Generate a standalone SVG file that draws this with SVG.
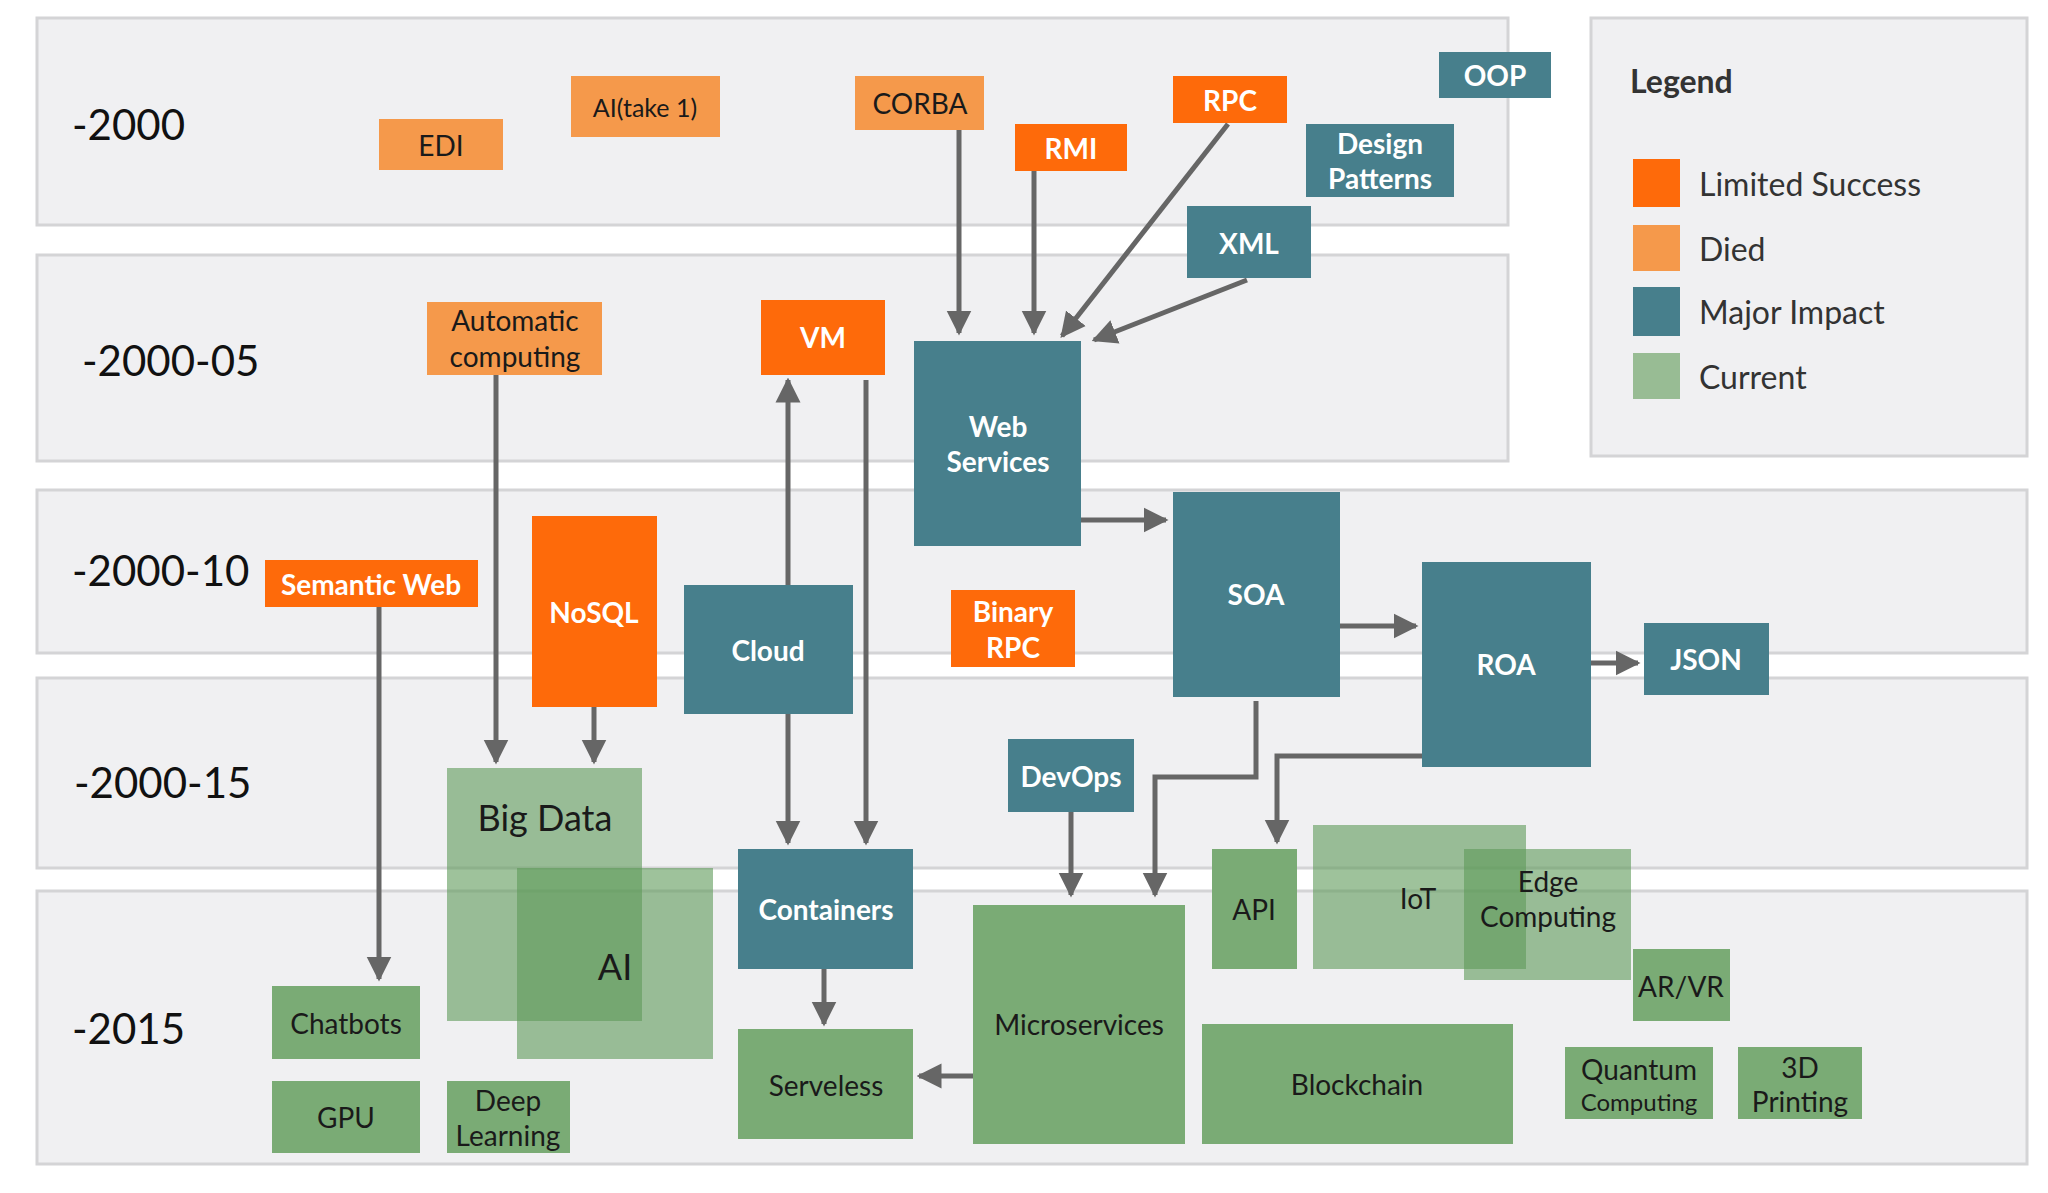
<svg xmlns="http://www.w3.org/2000/svg" width="2048" height="1193" viewBox="0 0 2048 1193">
<defs>
<style>
.band{fill:#f0f0f2;stroke:#d4d4d6;stroke-width:3}
.died{fill:#f5994b}
.lim{fill:#fe6a0a}
.maj{fill:#477f8c}
.cur{fill:#7aab75}
.semi{fill:#5e9a58;fill-opacity:0.6}
text{font-family:Lato,"Noto Sans","Liberation Sans",sans-serif;text-anchor:middle;dominant-baseline:central}
.dk{fill:#1a1a1a;font-size:28px}
.wt{fill:#ffffff;font-size:28px;font-weight:bold}
.yr{fill:#111;font-size:42px;text-anchor:start}
.lg{fill:#333;font-size:32px;text-anchor:start}
.con{fill:none;stroke:#666;stroke-width:5;marker-end:url(#ah)}
</style>
<marker id="ah" viewBox="0 0 10 10" refX="9" refY="5" markerWidth="5" markerHeight="6" orient="auto" markerUnits="strokeWidth"><path d="M0,0 L10,5 L0,10 z" fill="#666"/></marker>
</defs>
<rect width="2048" height="1193" fill="#ffffff"/>
<g id="bands">
<rect class="band" x="37" y="18" width="1471" height="207"/>
<rect class="band" x="37" y="255" width="1471" height="206"/>
<rect class="band" x="37" y="490" width="1990" height="163"/>
<rect class="band" x="37" y="678" width="1990" height="190"/>
<rect class="band" x="37" y="891" width="1990" height="273"/>
<text class="yr" x="72" y="124">-2000</text>
<text class="yr" x="82" y="360">-2000-05</text>
<text class="yr" x="72" y="570">-2000-10</text>
<text class="yr" x="74" y="782">-2000-15</text>
<text class="yr" x="72" y="1028">-2015</text>
</g>
<g id="legend">
<rect class="band" x="1591" y="18" width="436" height="438"/>
<text class="lg" x="1630" y="80" style="font-weight:bold;fill:#333">Legend</text>
<rect class="lim" x="1633" y="159" width="47" height="48"/><text class="lg" x="1699" y="183">Limited Success</text>
<rect class="died" x="1633" y="225" width="47" height="46"/><text class="lg" x="1699" y="248">Died</text>
<rect class="maj" x="1633" y="287" width="47" height="49"/><text class="lg" x="1699" y="311">Major Impact</text>
<rect fill="#98bc94" x="1633" y="353" width="47" height="46"/><text class="lg" x="1699" y="376">Current</text>
</g>
<g id="connectors">
<path class="con" d="M959,130 V333"/>
<path class="con" d="M1034,171 V333"/>
<path class="con" d="M1228,124 L1062,336"/>
<path class="con" d="M1247,280 L1094,340"/>
<path class="con" d="M496,375 V762"/>
<path class="con" d="M594,707 V762"/>
<path class="con" d="M788,585 V380"/>
<path class="con" d="M866,380 V843"/>
<path class="con" d="M788,714 V843"/>
<path class="con" d="M379,607 V979"/>
<path class="con" d="M1081,520 H1166"/>
<path class="con" d="M1340,626 H1416"/>
<path class="con" d="M1591,663 H1638"/>
<path class="con" d="M1256,701 V777 H1155 V895"/>
<path class="con" d="M1422,756 H1277 V842"/>
<path class="con" d="M1071,812 V895"/>
<path class="con" d="M824,969 V1024"/>
<path class="con" d="M973,1076 H919"/>
</g>
<g id="n-edi"><rect class="died" x="379" y="119" width="124" height="51"/><text class="dk" x="441" y="145">EDI</text></g>
<g id="n-ai1"><rect class="died" x="571" y="76" width="149" height="61"/><text class="dk" x="645" y="107" style="font-size:25px">AI(take 1)</text></g>
<g id="n-corba"><rect class="died" x="855" y="76" width="129" height="54"/><text class="dk" x="920" y="103">CORBA</text></g>
<g id="n-rmi"><rect class="lim" x="1015" y="124" width="112" height="47"/><text class="wt" x="1071" y="148">RMI</text></g>
<g id="n-rpc"><rect class="lim" x="1173" y="76" width="114" height="47"/><text class="wt" x="1230" y="100">RPC</text></g>
<g id="n-oop"><rect class="maj" x="1439" y="52" width="112" height="46"/><text class="wt" x="1495" y="75">OOP</text></g>
<g id="n-dp"><rect class="maj" x="1306" y="124" width="148" height="73"/><text class="wt" x="1380" y="143">Design</text><text class="wt" x="1380" y="178">Patterns</text></g>
<g id="n-xml"><rect class="maj" x="1187" y="206" width="124" height="72"/><text class="wt" x="1249" y="243">XML</text></g>
<g id="n-auto"><rect class="died" x="427" y="302" width="175" height="73"/><text class="dk" x="515" y="320">Automatic</text><text class="dk" x="515" y="356">computing</text></g>
<g id="n-vm"><rect class="lim" x="761" y="300" width="124" height="75"/><text class="wt" x="823" y="337">VM</text></g>
<g id="n-ws"><rect class="maj" x="914" y="341" width="167" height="205"/><text class="wt" x="998" y="426">Web</text><text class="wt" x="998" y="461">Services</text></g>
<g id="n-sw"><rect class="lim" x="265" y="560" width="213" height="47"/><text class="wt" x="371" y="584">Semantic Web</text></g>
<g id="n-nosql"><rect class="lim" x="532" y="516" width="125" height="191"/><text class="wt" x="594" y="612">NoSQL</text></g>
<g id="n-cloud"><rect class="maj" x="684" y="585" width="169" height="129"/><text class="wt" x="768" y="650">Cloud</text></g>
<g id="n-brpc"><rect class="lim" x="951" y="590" width="124" height="77"/><text class="wt" x="1013" y="611">Binary</text><text class="wt" x="1013" y="647">RPC</text></g>
<g id="n-soa"><rect class="maj" x="1173" y="492" width="167" height="205"/><text class="wt" x="1256" y="594">SOA</text></g>
<g id="n-roa"><rect class="maj" x="1422" y="562" width="169" height="205"/><text class="wt" x="1506" y="664">ROA</text></g>
<g id="n-json"><rect class="maj" x="1644" y="623" width="125" height="72"/><text class="wt" x="1706" y="659">JSON</text></g>
<g id="n-devops"><rect class="maj" x="1008" y="739" width="126" height="73"/><text class="wt" x="1071" y="776">DevOps</text></g>
<g id="n-bigdata"><rect class="semi" x="447" y="768" width="195" height="253"/><text class="dk" x="545" y="817" style="font-size:36px">Big Data</text></g>
<g id="n-ai"><rect class="semi" x="517" y="868" width="196" height="191"/><text class="dk" x="615" y="966" style="font-size:36px">AI</text></g>
<g id="n-containers"><rect class="maj" x="738" y="849" width="175" height="120"/><text class="wt" x="826" y="909">Containers</text></g>
<g id="n-micro"><rect class="cur" x="973" y="905" width="212" height="239"/><text class="dk" x="1079" y="1024">Microservices</text></g>
<g id="n-api"><rect class="cur" x="1212" y="849" width="85" height="120"/><text class="dk" x="1254" y="909">API</text></g>
<g id="n-iot"><rect class="semi" x="1313" y="825" width="213" height="144"/><text class="dk" x="1418" y="898">IoT</text></g>
<g id="n-edge"><rect class="semi" x="1464" y="849" width="167" height="131"/><text class="dk" x="1548" y="881">Edge</text><text class="dk" x="1548" y="916">Computing</text></g>
<g id="n-arvr"><rect class="cur" x="1633" y="949" width="97" height="72"/><text class="dk" x="1681" y="986">AR/VR</text></g>
<g id="n-block"><rect class="cur" x="1202" y="1024" width="311" height="120"/><text class="dk" x="1357" y="1084">Blockchain</text></g>
<g id="n-quantum"><rect class="cur" x="1565" y="1047" width="148" height="72"/><text class="dk" x="1639" y="1069">Quantum</text><text class="dk" x="1639" y="1101" style="font-size:24px">Computing</text></g>
<g id="n-3d"><rect class="cur" x="1738" y="1047" width="124" height="72"/><text class="dk" x="1800" y="1067">3D</text><text class="dk" x="1800" y="1101">Printing</text></g>
<g id="n-chatbots"><rect class="cur" x="272" y="986" width="148" height="73"/><text class="dk" x="346" y="1023">Chatbots</text></g>
<g id="n-gpu"><rect class="cur" x="272" y="1081" width="148" height="72"/><text class="dk" x="346" y="1117">GPU</text></g>
<g id="n-dl"><rect class="cur" x="447" y="1081" width="123" height="72"/><text class="dk" x="508" y="1100">Deep</text><text class="dk" x="508" y="1135">Learning</text></g>
<g id="n-serveless"><rect class="cur" x="738" y="1029" width="175" height="110"/><text class="dk" x="826" y="1085">Serveless</text></g>
</svg>
